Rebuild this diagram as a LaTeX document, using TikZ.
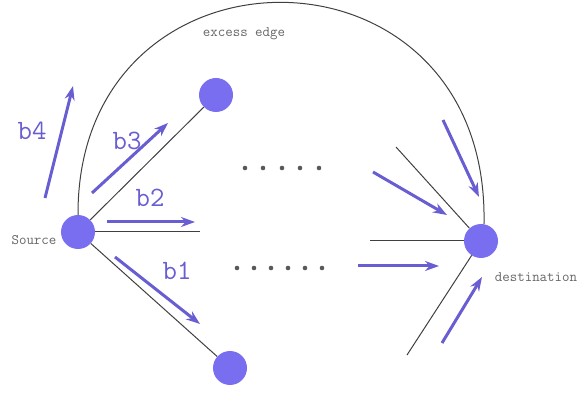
\documentclass[tikz,border=0pt]{standalone}
\usepackage{fontspec}
\usetikzlibrary{arrows.meta}
\definecolor{nodeblue}{RGB}{122,110,240}
\definecolor{flowblue}{RGB}{104,94,210}
\tikzset{
  vertex/.style={circle, fill=nodeblue, minimum size=34pt, inner sep=0pt},
  edgeline/.style={draw=black!75, line width=1pt},
  flow/.style={draw=flowblue, line width=3pt, -{Stealth[length=14pt,width=10pt]}},
  blabel/.style={text=flowblue, font=\fontsize{28}{28}\selectfont\ttfamily},
  smalllabel/.style={text=black!60, font=\fontsize{14.5}{14.5}\selectfont\ttfamily},
  dotmark/.style={fill=black!65}
}
\begin{document}
\begin{tikzpicture}[x=1pt,y=-1pt]
\useasboundingbox (0,0) rectangle (581,395);
% nodes
\node[vertex] (src) at (78,232) {};
\node[vertex] (top) at (216,95) {};
\node[vertex] (bot) at (230,368) {};
\node[vertex] (dst) at (481,241) {};
% labels
\node[smalllabel] (srclabel) at (34,240) {Source};
\node[smalllabel] (dstlabel) at (536,277) {destination};
\node[smalllabel] (excess) at (244,34) {excess edge};
% black edges from source
\coordinate (hend) at (200,232);
\draw[edgeline] (src) -- (top);
\draw[edgeline] (src) -- (bot);
\draw[edgeline] (src.east) -- (hend);
\draw[edgeline] (src.north) .. controls (77,-70) and (490,-70) .. (dst.80);
% black edges into destination
\coordinate (r1) at (396,147);
\coordinate (r2) at (370,241);
\coordinate (r3) at (407,355);
\draw[edgeline] (r1) -- (dst);
\draw[edgeline] (r2) -- (dst.west);
\draw[edgeline] (r3) -- (dst);
% dots
\foreach \x in {245,263,282,300,319} \fill[dotmark] (\x,168) circle (2.3pt);
\foreach \x in {237,254,271,288,305,322} \fill[dotmark] (\x,268) circle (2.3pt);
% flow arrows, source side
\coordinate (b4s) at (45,198); \coordinate (b4e) at (73,86);
\coordinate (b3s) at (92,193); \coordinate (b3e) at (168,123);
\coordinate (b2s) at (107,222); \coordinate (b2e) at (195,222);
\coordinate (b1s) at (115,257); \coordinate (b1e) at (200,324);
\draw[flow] (b4s) -- (b4e);
\draw[flow] (b3s) -- (b3e);
\draw[flow] (b2s) -- (b2e);
\draw[flow] (b1s) -- (b1e);
\node[blabel] (lb4) at (32,131) {b4};
\node[blabel] (lb3) at (127,141) {b3};
\node[blabel] (lb2) at (150,198) {b2};
\node[blabel] (lb1) at (177,271) {b1};
% flow arrows, destination side
\coordinate (d1s) at (443,120); \coordinate (d1e) at (479,197);
\coordinate (d2s) at (373,172); \coordinate (d2e) at (447,215);
\coordinate (d3s) at (358,266); \coordinate (d3e) at (439,266);
\coordinate (d4s) at (442,343); \coordinate (d4e) at (482,277);
\draw[flow] (d1s) -- (d1e);
\draw[flow] (d2s) -- (d2e);
\draw[flow] (d3s) -- (d3e);
\draw[flow] (d4s) -- (d4e);
\end{tikzpicture}
\end{document}
